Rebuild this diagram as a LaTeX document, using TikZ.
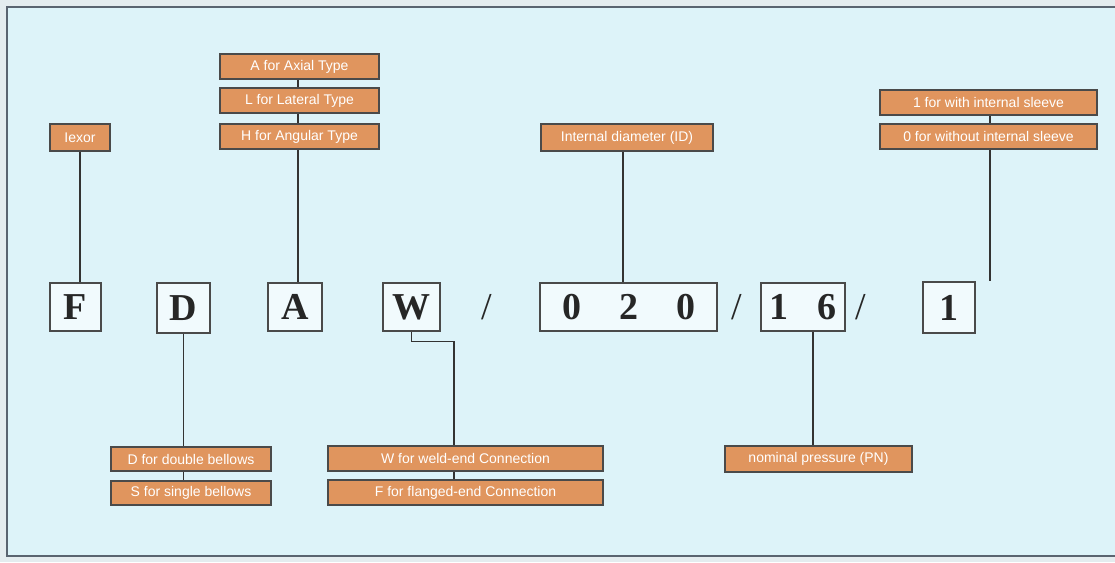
\documentclass[tikz,border=0pt]{standalone}
\usepackage{fontspec}
\setmainfont{Liberation Serif}
\setsansfont{Liberation Sans}
\definecolor{bgout}{HTML}{E4ECEF}
\definecolor{bgin}{HTML}{DDF3F9}
\definecolor{orng}{HTML}{E0955E}
\definecolor{edge}{HTML}{4A4A4A}
\definecolor{frm}{HTML}{5A6470}
\begin{document}
\begin{tikzpicture}[x=1pt,y=1pt,
  lbl/.style={draw=edge,line width=1.3pt,fill=orng,text=white,inner sep=0pt,
    font=\sffamily\fontsize{14}{15}\selectfont},
  letter/.style={draw=edge,line width=1.2pt,fill=white!60!bgin,inner sep=0pt,
    font=\bfseries\fontsize{38}{38}\selectfont,text=black!85},
  slash/.style={inner sep=0pt,font=\fontsize{38}{38}\selectfont,text=black!85},
  conn/.style={draw=black!80,line width=1.4pt}]
\useasboundingbox (0,0) rectangle (1115,-562);
\fill[bgout] (0,0) rectangle (1115,-562);
\draw[frm,line width=2pt,fill=bgin] (7,-7) rectangle (1120,-556);

% top labels
\node[lbl,minimum width=60,minimum height=27] (iexor) at (80,-137.5) {Iexor};
\node[lbl,minimum width=159,minimum height=25] (ax) at (299.5,-66.5) {A for Axial Type};
\node[lbl,minimum width=159,minimum height=25] (lat) at (299.5,-100.5) {L for Lateral Type};
\node[lbl,minimum width=159,minimum height=25] (ang) at (299.5,-136.5) {H for Angular Type};
\node[lbl,minimum width=172,minimum height=27] (idn) at (627,-137.5) {Internal diameter (ID)};
\node[lbl,minimum width=217,minimum height=25] (s1) at (988.5,-102.5) {1 for with internal sleeve};
\node[lbl,minimum width=217,minimum height=25] (s0) at (988.5,-136.5) {0 for without internal sleeve};

% bottom labels
\node[lbl,minimum width=160,minimum height=24] (dd) at (191,-459) {D for double bellows};
\node[lbl,minimum width=160,minimum height=24] (ss) at (191,-493) {S for single bellows};
\node[lbl,minimum width=275,minimum height=25] (ww) at (465.5,-458.5) {W for weld-end Connection};
\node[lbl,minimum width=275,minimum height=25] (ff) at (465.5,-492.5) {F for flanged-end Connection};
\node[lbl,minimum width=187,minimum height=26] (pn) at (818.5,-459) {nominal pressure (PN)};

% code letters
\node[letter,minimum width=51,minimum height=48] (F) at (75.5,-307) {F};
\node[letter,minimum width=53,minimum height=50] (D) at (183.5,-308) {D};
\node[letter,minimum width=54,minimum height=48] (A) at (295,-307) {A};
\node[letter,minimum width=57,minimum height=48] (W) at (411.5,-307) {W};
\node[slash] (sl1) at (487,-307) {/};
\node[letter,minimum width=177,minimum height=48] (dn) at (628.5,-307) {0\hspace{38pt}2\hspace{38pt}0};
\node[slash] (sl2) at (737,-307) {/};
\node[letter,minimum width=84,minimum height=48] (pr) at (803,-307) {1\hspace{30pt}6};
\node[slash] (sl3) at (861,-307) {/};
\node[letter,minimum width=52,minimum height=51] (one) at (949,-307.5) {1};

% connectors
\draw[conn] (iexor.south) -- (iexor.south |- F.north);
\draw[conn] ([xshift=-1.5pt]ax.south) -- ([xshift=-1.5pt]lat.north);
\draw[conn] ([xshift=-1.5pt]lat.south) -- ([xshift=-1.5pt]ang.north);
\draw[conn] ([xshift=-1.5pt]ang.south) -- ([xshift=-1.5pt]ang.south |- A.north);
\draw[conn] ([xshift=-4pt]idn.south) -- ([xshift=-4pt]idn.south |- dn.north);
\draw[conn] ([xshift=1.5pt]s1.south) -- ([xshift=1.5pt]s0.north);
\draw[conn] ([xshift=1.5pt]s0.south) -- ([xshift=1.5pt]s0.south |- one.north);
\draw[conn] (D.south) -- (D.south |- dd.north);
\draw[conn] (dd.south -| D.south) -- (ss.north -| D.south);
\draw[conn] (W.south) -- ++(0,-10) -| ([xshift=-11.5pt]ww.north);
\draw[conn] ([xshift=-11.5pt]ww.south) -- ([xshift=-11.5pt]ff.north);
\draw[conn] ([xshift=10pt]pr.south) -- ([xshift=10pt]pr.south |- pn.north);
\end{tikzpicture}
\end{document}
